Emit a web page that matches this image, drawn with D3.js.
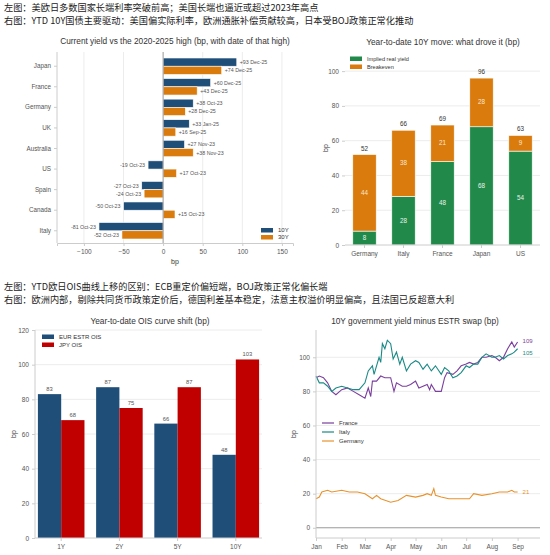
<!DOCTYPE html>
<html><head><meta charset="utf-8">
<script src="https://cdn.jsdelivr.net/npm/d3@7"></script>
<style>
body{margin:0;background:#fff;}
text{font-family:"Liberation Sans",Arial,sans-serif;}
.cn{font-family:"Noto Sans CJK SC",sans-serif;font-size:9.2px;fill:#222;}
</style></head><body>
<svg id="c" width="550" height="555"></svg>
<script>
// ---- data ----
const captions = [
  "左图：美欧日多数国家长端利率突破前高；美国长端也逼近或超过2023年高点",
  "右图：YTD 10Y国债主要驱动：美国偏实际利率，欧洲通胀补偿贡献较高，日本受BOJ政策正常化推动",
  "左图：YTD欧日OIS曲线上移的区别：ECB重定价偏短端，BOJ政策正常化偏长端",
  "右图：欧洲内部，剔除共同货币政策定价后，德国利差基本稳定，法意主权溢价明显偏高，且法国已反超意大利"
];
const countries1 = ["Japan","France","Germany","UK","Australia","US","Spain","Canada","Italy"];
const y10 = [93,60,38,33,27,-19,-27,-50,-81];
const y10Date = ["Dec-25","Dec-25","Oct-23","Jan-25","Nov-23","Oct-23","Oct-23","Oct-23","Oct-23"];
const y30 = [74,43,28,16,38,17,-24,15,-52];
const y30Date = ["Dec-25","Dec-25","Dec-25","Sep-25","Nov-23","Oct-23","Oct-23","Oct-23","Oct-23"];

const countries2 = ["Germany","Italy","France","Japan","US"];
const realYield = [8,28,48,68,54];
const breakeven = [44,38,21,28,9];

const tenors = ["1Y","2Y","5Y","10Y"];
const eurOis = [83,87,66,48];
const jpyOis = [68,75,87,103];

const franceDates = ["01-01","01-05","01-10","01-15","01-20","01-25","02-01","02-08","02-15","02-22","03-01","03-05","03-08","03-10","03-15","03-20","03-25","04-01","04-05","04-08","04-15","04-20","04-25","05-01","05-05","05-10","05-15","05-18","05-20","05-25","06-01","06-05","06-08","06-15","06-20","06-25","07-01","07-05","07-10","07-15","07-20","07-25","08-01","08-05","08-10","08-15","08-20","08-25","08-28","09-01"];
const france = [88,89,88,85,80,78,81,82,80,78,76,82,77,86,86,89,88,88,80,85,83,83,84,86,82,83,84,81,84,80,80,88,91,90,92,95,96,97,96,97,100,100,101,100,98,100,105,109,106,109];
const italyDates = ["01-01","01-05","01-10","01-15","01-20","01-25","02-01","02-08","02-15","02-22","03-01","03-05","03-10","03-12","03-18","03-20","03-22","03-25","03-28","04-01","04-04","04-08","04-12","04-15","04-20","04-25","05-01","05-05","05-10","05-15","05-20","05-25","06-01","06-05","06-10","06-15","06-20","06-25","07-01","07-05","07-10","07-15","07-20","07-25","08-01","08-05","08-10","08-15","08-20","08-25","08-28","09-01"];
const italy = [89,85,85,83,80,82,83,82,81,81,85,92,95,90,100,97,108,105,110,108,99,103,96,100,92,96,98,97,93,96,92,95,90,94,92,88,89,91,95,94,96,96,100,102,100,100,101,99,101,102,103,105];
const germanyDates = ["01-01","01-05","01-08","01-15","01-20","02-01","02-10","02-20","03-01","03-10","03-15","03-20","04-01","04-10","04-20","05-01","05-10","05-15","05-20","05-23","05-25","06-01","06-10","06-20","07-01","07-05","07-10","07-20","08-01","08-10","08-20","08-25","08-28","09-01"];
const germany = [17,18,21,22,21,22,21,21,20,17,19,17,15,16,19,18,19,20,19,23,19,18,17,17,17,17,20,19,20,21,21,22,21,21];

const C = {navy:"#1f4e79", orange:"#d97b0d", green:"#218a4a", red:"#c00000",
           purple:"#7b3f9e", teal:"#1a8a86", gorange:"#e8922d", grid:"#ececec", axis:"#ccc", txt:"#555"};

const svg = d3.select("#c");

// captions
[[captions[0],11],[captions[1],24],[captions[2],290],[captions[3],303]].forEach(([t,y]) =>
  svg.append("text").attr("class","cn").attr("x",4).attr("y",y).text(t));

function title(x, y, t) {
  svg.append("text").attr("x",x).attr("y",y).attr("text-anchor","middle")
    .attr("font-size",8.3).attr("fill","#333").text(t);
}
function styleAxis(g) {
  g.selectAll("path,line").attr("stroke",C.axis);
  g.selectAll("text").attr("fill",C.txt).attr("font-size",6.5);
}

// ---- panel 1: horizontal bars ----
{
  const x = d3.scaleLinear().domain([-134,164]).range([57,293]);
  const y = d3.scaleBand().domain(countries1).range([58,239]).paddingInner(0.2).paddingOuter(0);
  const g = svg.append("g");
  title(175,44,"Current yield vs the 2020-2025 high (bp, with date of that high)");
  g.selectAll(".gl").data([-100,-50,50,100,150]).join("line")
    .attr("x1",d=>x(d)).attr("x2",d=>x(d)).attr("y1",52).attr("y2",243).attr("stroke",C.grid);
  const bh = y.bandwidth()/2;
  const rows = countries1.map((c,i)=>({c,i}));
  [[y10,y10Date,C.navy,0],[y30,y30Date,C.orange,1]].forEach(([vals,dates,col,k])=>{
    g.selectAll(null).data(rows).join("rect")
      .attr("x",d=>x(Math.min(0,vals[d.i]))).attr("width",d=>Math.abs(x(vals[d.i])-x(0)))
      .attr("y",d=>y(d.c)+k*bh).attr("height",bh).attr("fill",col).attr("stroke","#fff").attr("stroke-width",0.6);
    g.selectAll(null).data(rows).join("text")
      .attr("x",d=>x(vals[d.i])+(vals[d.i]>=0?3:-3)).attr("y",d=>y(d.c)+k*bh+bh/2+2)
      .attr("text-anchor",d=>vals[d.i]>=0?"start":"end").attr("font-size",5.3).attr("fill","#555")
      .text(d=>(vals[d.i]>=0?"+":"")+vals[d.i]+"  "+dates[d.i]);
  });
  g.append("line").attr("x1",x(0)).attr("x2",x(0)).attr("y1",52).attr("y2",243).attr("stroke","#999");
  const ya = g.append("g").attr("transform","translate(57,0)").call(d3.axisLeft(y).tickSize(3)).call(styleAxis);
  ya.select("path").attr("d","M0,52V243");
  ya.selectAll("text").attr("font-size",6.3);
  g.append("g").attr("transform","translate(0,243)").call(d3.axisBottom(x).tickValues([-100,-50,0,50,100,150]).tickSize(3)).call(styleAxis);
  svg.append("text").attr("x",175).attr("y",264).attr("text-anchor","middle").attr("font-size",7).attr("fill","#333").text("bp");
  [["10Y",C.navy,232],["30Y",C.orange,239]].forEach(([t,c,yy])=>{
    svg.append("rect").attr("x",261).attr("y",yy-4).attr("width",12).attr("height",4.5).attr("fill",c);
    svg.append("text").attr("x",278).attr("y",yy).attr("font-size",6).attr("fill","#333").text(t);
  });
}

// ---- panel 2: stacked bars ----
{
  const x = d3.scaleBand().domain(countries2).range([345,540]).paddingInner(0.4).paddingOuter(0.2);
  const y = d3.scaleLinear().domain([0,111]).range([245,52]);
  const g = svg.append("g");
  title(443,45,"Year-to-date 10Y move: what drove it (bp)");
  g.selectAll(null).data([20,40,60,80,100]).join("line").attr("x1",345).attr("x2",540)
    .attr("y1",d=>y(d)).attr("y2",d=>y(d)).attr("stroke",C.grid);
  const idx = countries2.map((c,i)=>({c,i}));
  g.selectAll(null).data(idx).join("rect").attr("x",d=>x(d.c)).attr("width",x.bandwidth())
    .attr("y",d=>y(realYield[d.i])).attr("height",d=>y(0)-y(realYield[d.i])).attr("fill",C.green).attr("stroke","#fff").attr("stroke-width",0.6);
  g.selectAll(null).data(idx).join("rect").attr("x",d=>x(d.c)).attr("width",x.bandwidth())
    .attr("y",d=>y(realYield[d.i]+breakeven[d.i])).attr("height",d=>y(0)-y(breakeven[d.i])).attr("fill",C.orange).attr("stroke","#fff").attr("stroke-width",0.6);
  idx.forEach(d=>{
    const cx = x(d.c)+x.bandwidth()/2, r=realYield[d.i], b=breakeven[d.i];
    g.append("text").attr("x",cx).attr("y",y(r/2)+2).attr("text-anchor","middle").attr("font-size",6.3).attr("fill","#e8f3ec").text(r);
    g.append("text").attr("x",cx).attr("y",y(r+b/2)+2).attr("text-anchor","middle").attr("font-size",6.3).attr("fill","#fbe7cf").text(b);
    g.append("text").attr("x",cx).attr("y",y(r+b)-4).attr("text-anchor","middle").attr("font-size",6.3).attr("fill","#333").text(r+b);
  });
  const ya = g.append("g").attr("transform","translate(345,0)").call(d3.axisLeft(y).tickValues([0,20,40,60,80,100]).tickSize(3)).call(styleAxis);
  ya.select("path").remove();
  g.append("g").attr("transform","translate(0,245)").call(d3.axisBottom(x).tickSize(3)).call(styleAxis).select("path").attr("d","M345,0H540");
  svg.append("text").attr("transform","translate(328,148) rotate(-90)").attr("text-anchor","middle").attr("font-size",7).attr("fill","#333").text("bp");
  [["Implied real yield",C.green,61],["Breakeven",C.orange,69]].forEach(([t,c,yy])=>{
    svg.append("rect").attr("x",350).attr("y",yy-4.5).attr("width",12).attr("height",4.5).attr("fill",c);
    svg.append("text").attr("x",367).attr("y",yy).attr("font-size",5.6).attr("fill","#333").text(t);
  });
}

// ---- panel 3: grouped bars ----
{
  const x0 = d3.scaleBand().domain(tenors).range([35,262]).paddingInner(0.2).paddingOuter(0.05);
  const x1 = d3.scaleBand().domain(["eur","jpy"]).range([0,x0.bandwidth()]);
  const y = d3.scaleLinear().domain([0,120]).range([538,330]);
  const g = svg.append("g");
  title(150,324,"Year-to-date OIS curve shift (bp)");
  g.selectAll(null).data([20,40,60,80,100,120]).join("line").attr("x1",35).attr("x2",262)
    .attr("y1",d=>y(d)).attr("y2",d=>y(d)).attr("stroke",C.grid);
  [["eur",eurOis,C.navy],["jpy",jpyOis,C.red]].forEach(([k,vals,col])=>{
    tenors.forEach((t,i)=>{
      const bx = x0(t)+x1(k);
      g.append("rect").attr("x",bx).attr("width",x1.bandwidth()).attr("y",y(vals[i])).attr("height",y(0)-y(vals[i])).attr("fill",col);
      g.append("text").attr("x",bx+x1.bandwidth()/2).attr("y",y(vals[i])-3).attr("text-anchor","middle").attr("font-size",5.8).attr("fill","#555").text(vals[i]);
    });
  });
  g.append("g").attr("transform","translate(35,0)").call(d3.axisLeft(y).ticks(6).tickSize(3)).call(styleAxis).select("path").attr("d","M0,330V538");
  g.append("g").attr("transform","translate(0,538)").call(d3.axisBottom(x0).tickSize(3)).call(styleAxis).select("path").attr("d","M35,0H262");
  svg.append("text").attr("transform","translate(16,434) rotate(-90)").attr("text-anchor","middle").attr("font-size",7).attr("fill","#333").text("bp");
  [["EUR ESTR OIS",C.navy,339],["JPY OIS",C.red,347]].forEach(([t,c,yy])=>{
    svg.append("rect").attr("x",42).attr("y",yy-4.5).attr("width",12).attr("height",4.5).attr("fill",c);
    svg.append("text").attr("x",59).attr("y",yy).attr("font-size",6).attr("fill","#333").text(t);
  });
}

// ---- panel 4: lines ----
{
  const p = d3.timeParse("%Y-%m-%d");
  const x = d3.scaleTime().domain([p("2025-01-01"),p("2025-09-28")]).range([316,540]);
  const y = d3.scaleLinear().domain([-6,116]).range([538,330]);
  const g = svg.append("g");
  title(415,324,"10Y government yield minus ESTR swap (bp)");
  g.selectAll(null).data([20,40,60,80,100]).join("line").attr("x1",316).attr("x2",540)
    .attr("y1",d=>y(d)).attr("y2",d=>y(d)).attr("stroke",C.grid);
  g.append("line").attr("x1",316).attr("x2",540).attr("y1",y(0)).attr("y2",y(0)).attr("stroke","#999");
  const line = d3.line().x(d=>x(d[0])).y(d=>y(d[1]));
  const series = [
    ["France",franceDates,france,C.purple],
    ["Italy",italyDates,italy,C.teal],
    ["Germany",germanyDates,germany,C.gorange]];
  series.forEach(([n,ds,vs,col])=>{
    const pts = ds.map((d,i)=>[p("2025-"+d),vs[i]]);
    g.append("path").datum(pts).attr("d",line).attr("fill","none").attr("stroke",col).attr("stroke-width",1.1);
  });
  [["109",france.at(-1)+0.5,C.purple],["105",italy.at(-1)-2.5,C.teal],["21",germany.at(-1),C.gorange]].forEach(([t,v,c])=>
    g.append("text").attr("x",x(p("2025-09-01"))+5).attr("y",y(v)+2).attr("font-size",6).attr("fill",c).text(t));
  g.append("g").attr("transform","translate(316,0)").call(d3.axisLeft(y).tickValues([0,20,40,60,80,100]).tickSize(3)).call(styleAxis).select("path").attr("d","M0,330V538");
  g.append("g").attr("transform","translate(0,538)").call(d3.axisBottom(x).ticks(d3.timeMonth.every(1)).tickFormat(d3.timeFormat("%b")).tickSize(3)).call(styleAxis).select("path").attr("d","M316,0H540");
  svg.append("text").attr("transform","translate(296,434) rotate(-90)").attr("text-anchor","middle").attr("font-size",7).attr("fill","#333").text("bp");
  series.forEach(([n,,,c],i)=>{
    const yy = 425+i*9;
    svg.append("line").attr("x1",322).attr("x2",334).attr("y1",yy-2).attr("y2",yy-2).attr("stroke",c).attr("stroke-width",1.2);
    svg.append("text").attr("x",339).attr("y",yy).attr("font-size",6).attr("fill","#333").text(n);
  });
}
</script></body></html>
